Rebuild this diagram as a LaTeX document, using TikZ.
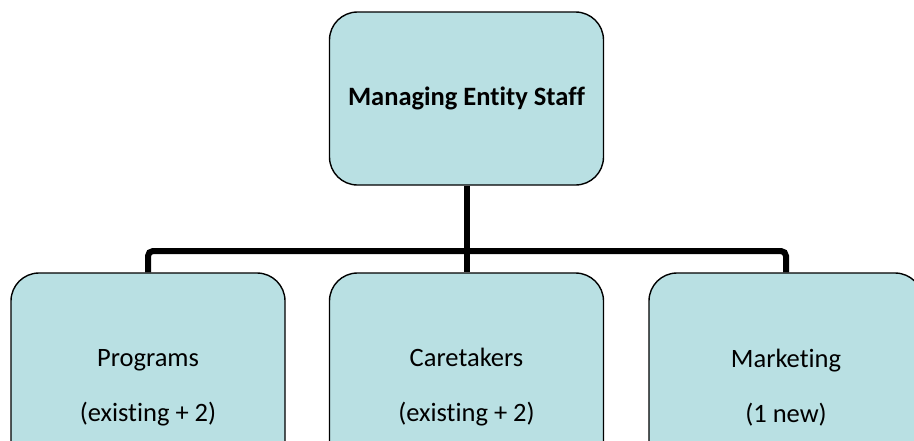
\documentclass[tikz,border=0pt]{standalone}
\usepackage{fontspec}
\setmainfont{Carlito}[Ligatures=NoCommon]
\definecolor{boxfill}{HTML}{B9E0E3}
\tikzset{
  orgbox/.style={draw=black, line width=1.4pt, fill=boxfill, rounded corners=28pt,
    minimum width=274pt, align=center, font=\fontsize{26.5}{31}\selectfont, inner sep=0pt},
  conn/.style={draw=black, line width=6pt}
}
\begin{document}
\begin{tikzpicture}[x=1pt, y=-1pt]
  \useasboundingbox (0,0) rectangle (914,440);
  % top level
  \node[orgbox, minimum height=173pt] (top) at (466.5,98.5) {\textbf{Managing Entity Staff}};
  % second level
  \node[orgbox, minimum height=229pt] (prog) at (148,387.5) {Programs\\[24pt](existing + 2)};
  \node[orgbox, minimum height=229pt] (care) at (466.5,387.5) {Caretakers\\[24pt](existing + 2)};
  \node[orgbox, minimum height=229pt] (mark) at (786,387.5) {Marketing\\[24pt](1 new)};
  % connectors
  \coordinate (bar) at (466.5,251);
  \draw[conn, rounded corners=5pt] (prog.north) |- (bar) -| (mark.north);
  \draw[conn] (top.south) -- (care.north);
\end{tikzpicture}
\end{document}
